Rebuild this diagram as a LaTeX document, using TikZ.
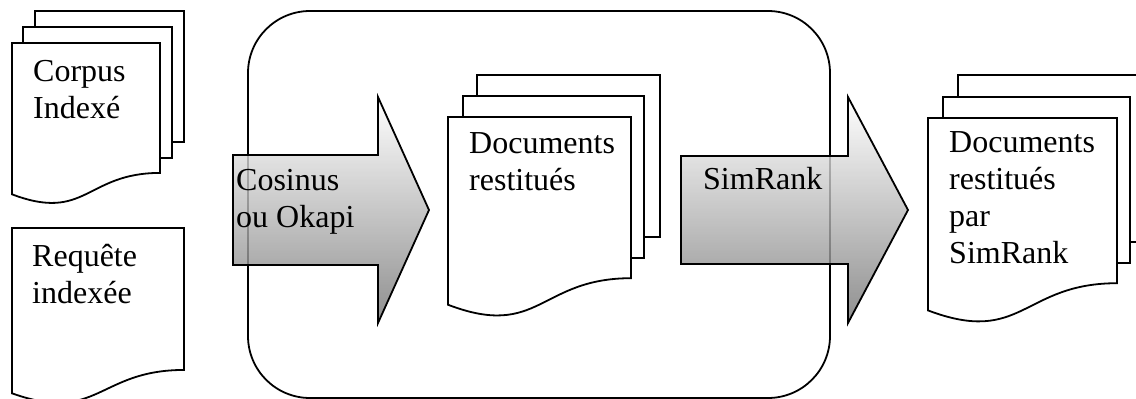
\documentclass[tikz,border=0pt]{standalone}
\usepackage{fontspec}
\setmainfont{Liberation Serif}

\tikzset{
  sheet/.style={draw=black, line width=1.8pt, fill=white},
  bigarrow/.style={draw=black, line width=1.8pt, top color=white,
    middle color=white!93!black, bottom color=black!55, fill opacity=0.8},
  doctext/.style={anchor=base west, align=left, inner sep=0pt,
    font=\fontsize{32}{36.7}\selectfont}
}

% front page of a document: x, y (top), width, height
\newcommand{\docsheet}[4]{%
  \draw[sheet] (#1,#2) -- ++(#3,0) -- ++(0,{0.802*#4})
    .. controls ++({-0.5*#3},0) and ({#1+0.5*#3},{#2+1.1075*#4}) ..
    ({#1},{#2+0.934*#4}) -- cycle;
}

\begin{document}
\begin{tikzpicture}[x=1pt, y=-1pt]
    \clip (0,0) rectangle (1136,399);

    % Process frame
    \draw[line width=1.8pt, rounded corners=62pt] (248,11) rectangle (830,398);

    % Indexed corpus (stack of pages)
    \draw[sheet] (35,11) rectangle (184,142);
    \draw[sheet] (23,27) rectangle (172,158);
    \docsheet{12}{43}{148}{162}

    % Indexed query
    \docsheet{12}{228}{172}{177}

    % Retrieved documents
    \draw[sheet] (477,75) rectangle (660,237);
    \draw[sheet] (463,96) rectangle (644,258);
    \docsheet{448}{117}{183}{201}

    % Documents ranked by SimRank
    \draw[sheet] (958,75) rectangle (1150,242);
    \draw[sheet] (943,97) rectangle (1130,263);
    \docsheet{928}{118}{189}{206}

    % Block arrows
    \coordinate (a1) at (233,155);
    \coordinate (a2) at (681,156);
    \draw[bigarrow] (a1) -- ++(145,0) -- ++(0,-58) -- ++(51,113)
        -- ++(-51,113) -- ++(0,-58) -- ++(-145,0) -- cycle;
    \draw[bigarrow] (a2) -- ++(167,0) -- ++(0,-59) -- ++(60,113)
        -- ++(-60,113) -- ++(0,-59) -- ++(-167,0) -- cycle;

    % Labels (anchored on the baseline of the last line)
    \node[doctext] (corpus) at (33,118) {Corpus\\Indexé};
    \node[doctext] (requete) at (32,303) {Requête\\indexée};
    \node[doctext] (cosinus) at (236,227) {Cosinus\\ou Okapi};
    \node[doctext] (docs) at (469,190) {Documents\\restitués};
    \node[doctext] (simrank) at (703,189) {SimRank};
    \node[doctext] (docssim) at (949,263) {Documents\\restitués\\par\\SimRank};
\end{tikzpicture}
\end{document}
